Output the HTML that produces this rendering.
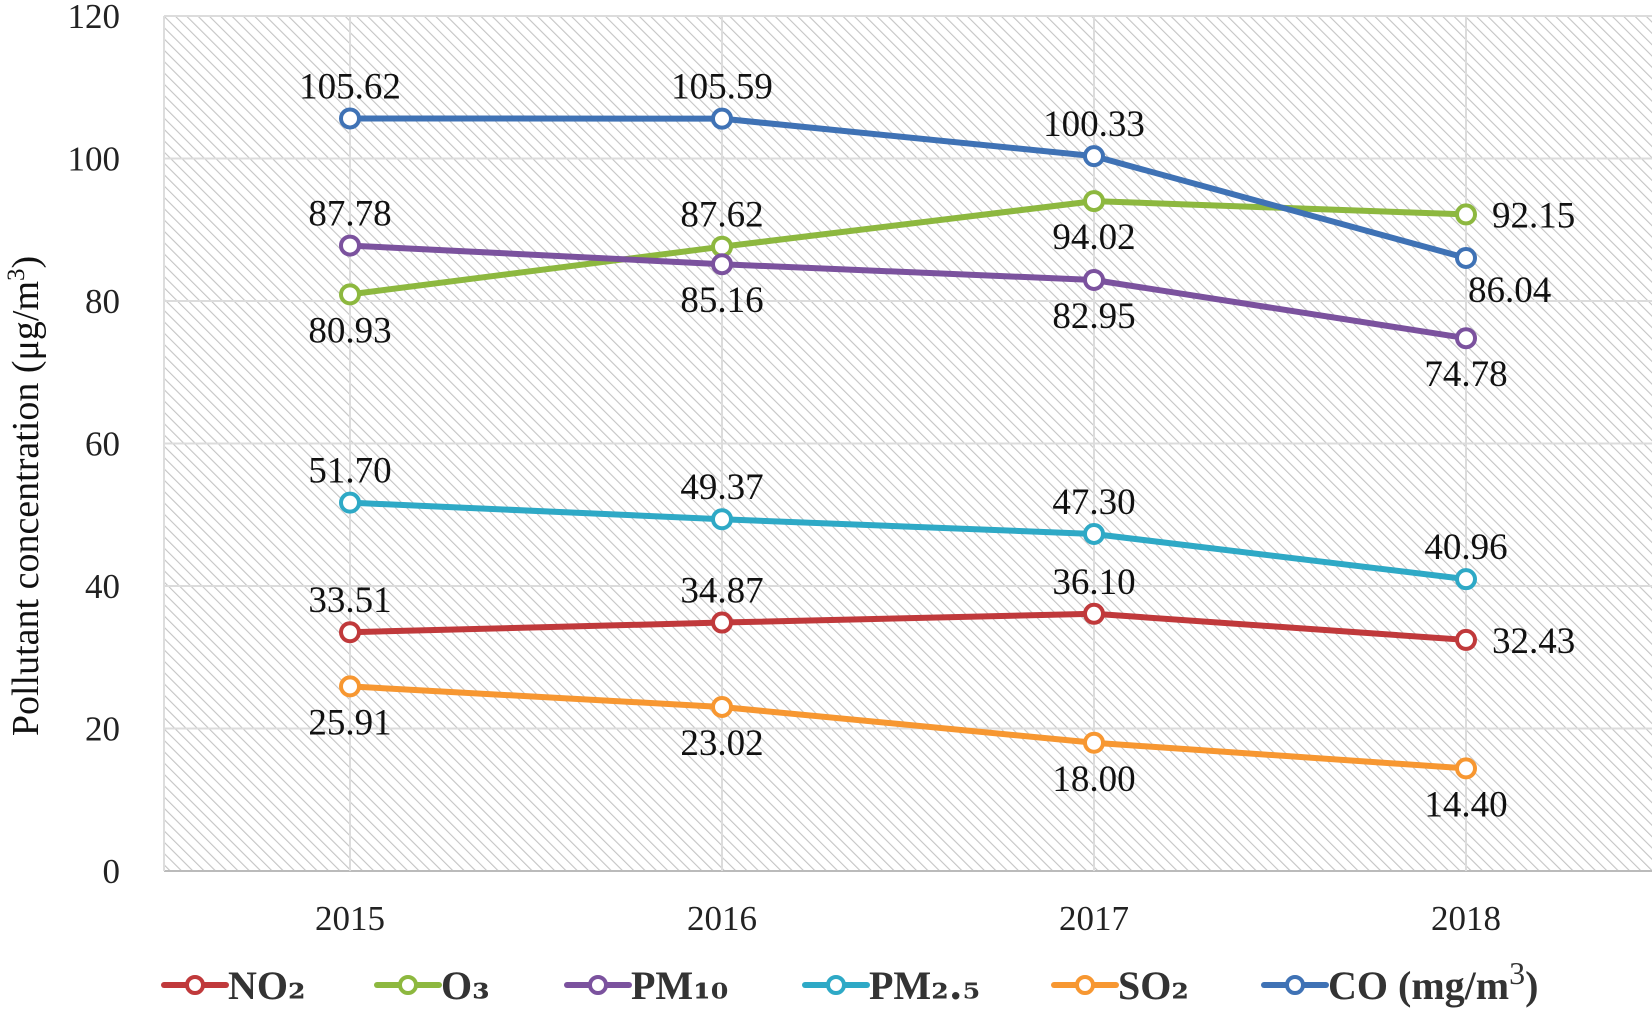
<!DOCTYPE html>
<html><head><meta charset="utf-8"><style>
html,body{margin:0;padding:0;background:#fff;}
svg{display:block;font-family:"Liberation Serif",serif;}
</style></head><body>
<svg id="chart" width="1652" height="1015" viewBox="0 0 1652 1015" xmlns="http://www.w3.org/2000/svg">
<defs>
<pattern id="hatch" width="8" height="8" patternUnits="userSpaceOnUse" patternTransform="rotate(-45)">
<rect width="8" height="8" fill="#fff"/>
<line x1="0" y1="0" x2="0" y2="8" stroke="#c4c4c4" stroke-width="2.2"/>
</pattern>
</defs>
<rect x="164" y="16" width="1488" height="855" fill="url(#hatch)"/>
<g id="grid"></g>
<g id="axes"></g>
<g id="series"></g>
<g id="legend"></g>
<text transform="translate(38,496) rotate(-90)" text-anchor="middle" font-size="38" fill="#111">Pollutant  concentration (μg/m<tspan dy="-14" font-size="25">3</tspan><tspan dy="14">)</tspan></text>
</svg>
<script>
const categories = ["2015","2016","2017","2018"];
const yTicks = [0,20,40,60,80,100,120];
const seriesNames = ["NO2","O3","PM10","PM2.5","SO2","CO"];
const no2 = [33.51,34.87,36.10,32.43];
const o3 = [80.93,87.62,94.02,92.15];
const pm10 = [87.78,85.16,82.95,74.78];
const pm25 = [51.70,49.37,47.30,40.96];
const so2 = [25.91,23.02,18.00,14.40];
const co = [105.62,105.59,100.33,86.04];
const colors = ["#C0393B","#8DB83F","#7B529E","#2EA9C6","#F79731","#3F72B5"];
const place = [
 ["a","a","a","r"],
 ["b","a","b","r"],
 ["a","b","b","b"],
 ["a","a","a","a"],
 ["b","b","b","b"],
 ["a","a","a","rb"]
];
const NS="http://www.w3.org/2000/svg";
const L=164,R=1652,T=16,B=871,yMax=120;
const x=i=>L+(R-L)/categories.length*(i+0.5);
const y=v=>B-(B-T)*v/yMax;
function mk(tag,attrs,parent){const e=document.createElementNS(NS,tag);for(const k in attrs)e.setAttribute(k,attrs[k]);parent.appendChild(e);return e;}
const grid=document.getElementById('grid'),axes=document.getElementById('axes'),ser=document.getElementById('series'),leg=document.getElementById('legend');
yTicks.forEach(t=>{
 const g=mk('line',{x1:L,x2:R,y1:y(t),y2:y(t),stroke:t===0?'#bbb':'#dcdcdc','stroke-width':2},grid);
 
 
 const tx=mk('text',{x:120,y:y(t)+12,'text-anchor':'end','font-size':35,fill:'#222'},axes);
 tx.textContent=t;
 
 
});
mk('line',{x1:L,x2:L,y1:T,y2:B,stroke:'#ddd','stroke-width':2},grid);
categories.forEach((c,i)=>{
 const g=mk('line',{x1:x(i),x2:x(i),y1:T,y2:B,stroke:'#dcdcdc','stroke-width':2},grid);
 
 
 const tx=mk('text',{x:x(i),y:930,'text-anchor':'middle','font-size':35,fill:'#222'},axes);
 tx.textContent=c;
 
 
});
const data=[no2,o3,pm10,pm25,so2,co];
data.forEach((vals,s)=>{
 const pts=vals.map((v,i)=>x(i)+','+y(v)).join(' ');
 const pl=mk('polyline',{points:pts,fill:'none',stroke:colors[s],'stroke-width':6,'stroke-linejoin':'round'},ser);
 
 
});
data.forEach((vals,s)=>{
 vals.forEach((v,i)=>{
  const c=mk('circle',{cx:x(i),cy:y(v),r:9,fill:'#fff',stroke:colors[s],'stroke-width':4},ser);
  
  
  const p=place[s][i];let lx=x(i),ly=y(v),anc='middle';
  if(p==='a'){ly-=20;} else if(p==='b'){ly+=48;} else if(p==='r'){lx+=26;ly+=13;anc='start';} else {lx+=2;ly+=44;anc='start';}
  const t=mk('text',{x:lx,y:ly,'text-anchor':anc,'font-size':37,fill:'#111'},ser);
  t.textContent=v.toFixed(2);
  
  
 });
});
const legX=[164,377,567,805,1054,1264];
const legLabels=[['NO','₂'],['O','₃'],['PM','₁₀'],['PM','₂.₅'],['SO','₂'],['CO (mg/m','3',')']];
legX.forEach((lx,s)=>{
 const g=mk('g',{},leg);
 
 
 mk('line',{x1:lx,x2:lx+62,y1:985,y2:985,stroke:colors[s],'stroke-width':6,'stroke-linecap':'round'},g);
 mk('circle',{cx:lx+31,cy:985,r:8,fill:'#fff',stroke:colors[s],'stroke-width':4},g);
 const t=mk('text',{x:lx+64,y:999,'font-size':40,'font-weight':'bold',fill:'#333'},g);
 const lb=legLabels[s];
 if(s===5){t.textContent=lb[0];const sp=mk('tspan',{dy:-15,'font-size':32,'font-weight':'normal'},t);sp.textContent=lb[1];const sp2=mk('tspan',{dy:15},t);sp2.textContent=lb[2];}
 else{t.textContent=lb[0];const sp=mk('tspan',{'font-size':40,'font-family':'"DejaVu Serif",serif'},t);sp.textContent=lb[1];}
});
</script>
</body></html>
